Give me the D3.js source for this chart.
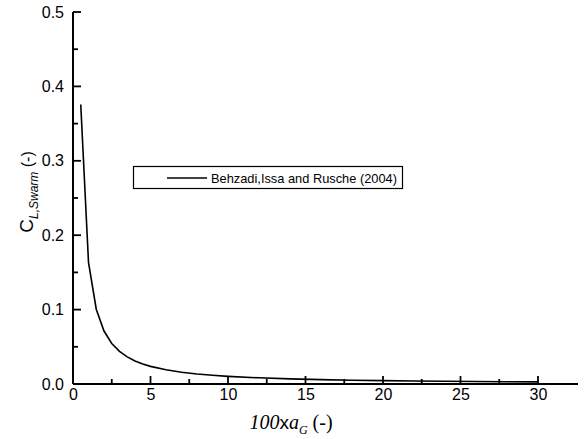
<!DOCTYPE html>
<html><head><meta charset="utf-8">
<script src="https://cdn.jsdelivr.net/npm/d3@7"></script>
<style>body{margin:0;background:#fff}svg{display:block}</style>
</head><body>
<svg id="c" width="584" height="439"></svg>
<script>
const xValues = [0.5, 1, 1.5, 2, 2.5, 3, 3.5, 4, 4.5, 5, 6, 7, 8, 9, 10, 12, 14, 16, 18, 20, 22, 24, 26, 28, 30];
const yValues = [0.3757, 0.1635, 0.1005, 0.0712, 0.0545, 0.0438, 0.0364, 0.0310, 0.0269, 0.0237, 0.0191, 0.0158, 0.0135, 0.0117, 0.0103, 0.0083, 0.0069, 0.0059, 0.0051, 0.0045, 0.0040, 0.0036, 0.0033, 0.0030, 0.0028];
const xTicks = [0, 5, 10, 15, 20, 25, 30];
const yTicks = [0.0, 0.1, 0.2, 0.3, 0.4, 0.5];
const seriesName = "Behzadi,Issa and Rusche (2004)";

(function () {
const svg = d3.select("#c");
const pL = 73, pR = 578, pT = 12, pB = 384;
const x = d3.scaleLinear().domain([0, 30]).range([pL, 538]);
const xMax = x.invert(pR);
x.domain([0, xMax]).range([pL, pR]);
const y = d3.scaleLinear().domain([0, 0.5]).range([pB, pT]);

const font = "Arial, 'Liberation Sans', sans-serif";

// x axis
const xAxis = d3.axisBottom(x).tickValues(xTicks).tickSize(0).tickPadding(5).tickFormat(d3.format("d"));
const gx = svg.append("g").attr("transform", `translate(0,${pB})`).call(xAxis);
gx.select(".domain").attr("d", `M${pL},0H${pR}`).attr("stroke", "#000").attr("stroke-width", 2);
gx.selectAll("text").attr("font-family", font).attr("font-size", 16).attr("fill", "#000");
gx.selectAll(".maj").data(xTicks).enter().append("line")
  .attr("x1", d => x(d)).attr("x2", d => x(d)).attr("y1", 0).attr("y2", -8)
  .attr("stroke", "#000").attr("stroke-width", 1.8);
const xMinor = d3.range(2.5, 32.5, 5);
gx.selectAll(".minor").data(xMinor).enter().append("line")
  .attr("x1", d => x(d)).attr("x2", d => x(d)).attr("y1", 0).attr("y2", -5)
  .attr("stroke", "#000").attr("stroke-width", 1.8);

// y axis
const yAxis = d3.axisLeft(y).tickValues(yTicks).tickSize(0).tickPadding(9).tickFormat(d3.format(".1f"));
const gy = svg.append("g").attr("transform", `translate(${pL},0)`).call(yAxis);
gy.select(".domain").attr("d", `M0,${pT}V${pB}`).attr("stroke", "#000").attr("stroke-width", 2);
gy.selectAll("text").attr("font-family", font).attr("font-size", 16).attr("fill", "#000");
gy.selectAll(".maj").data(yTicks).enter().append("line")
  .attr("x1", 0).attr("x2", 8).attr("y1", d => y(d)).attr("y2", d => y(d))
  .attr("stroke", "#000").attr("stroke-width", 1.8);
const yMinor = [0.05, 0.15, 0.25, 0.35, 0.45];
gy.selectAll(".minor").data(yMinor).enter().append("line")
  .attr("x1", 0).attr("x2", 5).attr("y1", d => y(d)).attr("y2", d => y(d))
  .attr("stroke", "#000").attr("stroke-width", 1.8);

// curve
const data = xValues.map((v, i) => [v, yValues[i]]);
svg.append("path").datum(data)
  .attr("fill", "none").attr("stroke", "#000").attr("stroke-width", 1.6)
  .attr("d", d3.line().x(d => x(d[0])).y(d => y(d[1])));

// legend
const lg = svg.append("g");
lg.append("rect").attr("x", 133.5).attr("y", 166.5).attr("width", 269).attr("height", 22)
  .attr("fill", "#fff").attr("stroke", "#000").attr("stroke-width", 1.2);
lg.append("line").attr("x1", 167).attr("x2", 207).attr("y1", 178).attr("y2", 178)
  .attr("stroke", "#000").attr("stroke-width", 1.6);
lg.append("text").attr("x", 211).attr("y", 183).attr("font-family", font).attr("font-size", 13.5)
  .attr("textLength", 186).attr("lengthAdjust", "spacingAndGlyphs")
  .text(seriesName);

// x label
const xl = svg.append("text").attr("x", 291).attr("y", 429).attr("text-anchor", "middle")
  .attr("font-size", 20).attr("font-family", "'Liberation Serif', 'Times New Roman', serif");
xl.append("tspan").attr("font-style", "italic").text("100");
xl.append("tspan").attr("font-family", font).attr("font-size", 19).text("x");
xl.append("tspan").attr("font-style", "italic").text("a");
xl.append("tspan").attr("font-style", "italic").attr("font-size", 12).attr("dy", 5).text("G");
xl.append("tspan").attr("dy", -5).text(" (-)");

// y label
const yl = svg.append("text").attr("transform", "translate(33,192) rotate(-90)")
  .attr("text-anchor", "middle").attr("font-family", font).attr("font-size", 19);
yl.append("tspan").text("C");
yl.append("tspan").attr("font-style", "italic").attr("font-size", 12).attr("dy", 5).text("L,Swarm");
yl.append("tspan").attr("dy", -5).attr("font-size", 16).text(" (-)");
})();
</script>
</body></html>
